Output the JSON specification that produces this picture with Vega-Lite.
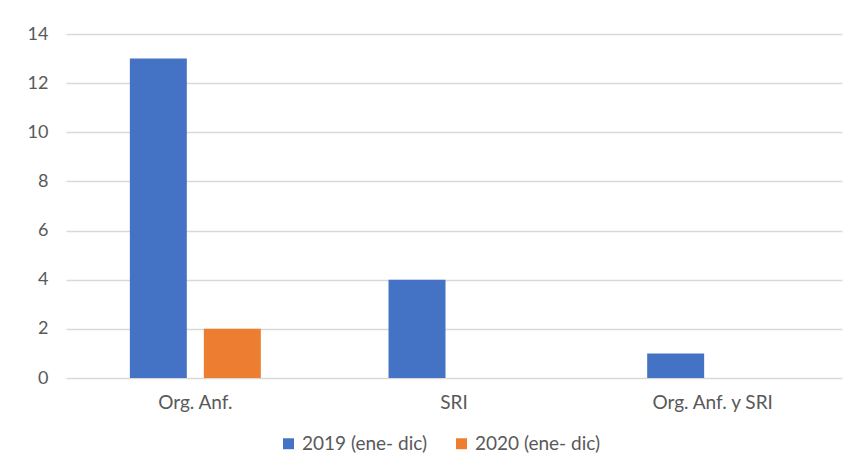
{
  "$schema": "https://vega.github.io/schema/vega-lite/v6.json",
  "autosize": {"type": "none"},
  "width": 776,
  "height": 344,
  "padding": {"left": 66, "top": 34, "right": 14, "bottom": 94},
  "background": "white",
  "data": {"values": [
    {"cat": "Org. Anf.", "serie": "2019 (ene- dic)", "valor": 13},
    {"cat": "Org. Anf.", "serie": "2020 (ene- dic)", "valor": 2},
    {"cat": "SRI", "serie": "2019 (ene- dic)", "valor": 4},
    {"cat": "SRI", "serie": "2020 (ene- dic)", "valor": 0},
    {"cat": "Org. Anf. y SRI", "serie": "2019 (ene- dic)", "valor": 1},
    {"cat": "Org. Anf. y SRI", "serie": "2020 (ene- dic)", "valor": 0}
  ]},
  "mark": {"type": "bar"},
  "encoding": {
    "x": {"field": "cat", "type": "nominal", "sort": ["Org. Anf.", "SRI", "Org. Anf. y SRI"],
      "scale": {"paddingInner": 0, "paddingOuter": 0},
      "axis": {"title": null, "labelAngle": 0, "ticks": false, "domain": false, "labelPadding": 15, "labelFontSize": 19}},
    "xOffset": {"field": "serie", "type": "nominal", "scale": {"paddingInner": 0.23, "paddingOuter": 0.863}},
    "y": {"field": "valor", "type": "quantitative", "scale": {"domain": [0, 14]},
      "axis": {"title": null, "values": [0, 2, 4, 6, 8, 10, 12, 14], "ticks": false, "domain": false, "labelPadding": 18, "labelFontSize": 18, "gridColor": "#d9d9d9", "gridWidth": 1.5}},
    "color": {"field": "serie", "type": "nominal",
      "scale": {"domain": ["2019 (ene- dic)", "2020 (ene- dic)"], "range": ["#4472C4", "#ED7D31"]},
      "legend": {"title": null, "orient": "none", "legendX": 213, "legendY": 400, "direction": "horizontal", "symbolType": "square", "symbolSize": 120, "labelFontSize": 19, "columnPadding": 24, "symbolOpacity": 1}}
  },
  "config": {
    "font": "Lato",
    "view": {"stroke": null},
    "axis": {"labelColor": "#595959", "labelFont": "Lato"},
    "legend": {"labelColor": "#595959", "labelFont": "Lato"}
  }
}
